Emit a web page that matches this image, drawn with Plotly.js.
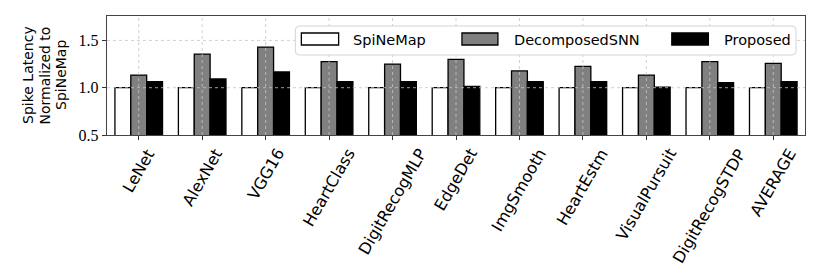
<!DOCTYPE html>
<html>
<head>
<meta charset="utf-8">
<script src="https://cdn.plot.ly/plotly-3.0.1.min.js"></script>
<style>html,body{margin:0;padding:0;background:#fff;}#chart{width:822px;height:274px;}</style>
</head>
<body>
<div id="chart"></div>
<script>
const categories = ["LeNet","AlexNet","VGG16","HeartClass","DigitRecogMLP","EdgeDet","ImgSmooth","HeartEstm","VisualPursuit","DigitRecogSTDP","AVERAGE"];
const seriesNames = ["SpiNeMap","DecomposedSNN","Proposed"];
const spinemap = [1,1,1,1,1,1,1,1,1,1,1];
const decomposedSNN = [1.134,1.356,1.43,1.275,1.25,1.30,1.177,1.226,1.134,1.275,1.258];
const proposed = [1.063,1.092,1.166,1.063,1.063,1.015,1.063,1.063,1.007,1.053,1.063];
const yTickVals = [0.5,1.0,1.5];
const yTickText = ['0.5','1.0','1.5'];
const yTitleLines = ['Spike Latency','Normalized to','SpiNeMap'];

const colors = ['#ffffff','#808080','#000000'];
const sans = "DejaVu Sans, sans-serif";
const serif = "Liberation Serif, serif";

const seriesVals = [spinemap, decomposedSNN, proposed];
const data = seriesNames.map((n,i)=>({
  type:'bar', name:n, x:categories, y:seriesVals[i], base:0,
  marker:{color:colors[i], line:{color:'#000', width:1.3}}
}));

// plot area in pixels (for converting legend geometry to paper units)
const W=822,H=274, L=106.5, R=17, T=16, B=139;
const pw=W-L-R, ph=H-T-B;
const px=v=>(v-L)/pw, py=v=>(H-B-v)/ph;

const shapes = [];
const gridLine = {color:'#c4c4c4', width:0.8, dash:'dot'};
categories.forEach(c=>shapes.push({type:'line', layer:'above', xref:'x', yref:'paper', x0:c, x1:c, y0:0, y1:1, line:gridLine}));
yTickVals.slice(1).forEach(v=>shapes.push({type:'line', layer:'above', xref:'paper', yref:'y', x0:0, x1:1, y0:v, y1:v, line:gridLine}));
// legend box (rounded)
(function(){
  const x0=px(295), x1=px(796), y0=py(55), y1=py(26);
  const rx=4/pw, ry=4/ph;
  const path = `M${x0+rx},${y1} L${x1-rx},${y1} Q${x1},${y1} ${x1},${y1-ry} L${x1},${y0+ry} Q${x1},${y0} ${x1-rx},${y0} L${x0+rx},${y0} Q${x0},${y0} ${x0},${y0+ry} L${x0},${y1-ry} Q${x0},${y1} ${x0+rx},${y1} Z`;
  shapes.push({type:'path', layer:'above', xref:'paper', yref:'paper', path:path,
    fillcolor:'rgba(255,255,255,0.92)', line:{color:'#d4d4d4', width:1}});
})();
const swatchX = [[301,338.3],[461.7,497.7],[671.7,708.3]];
const textX = [351.7,512.3,723.3];
const annotations = [];
seriesNames.forEach((n,i)=>{
  shapes.push({type:'rect', layer:'above', xref:'paper', yref:'paper',
    x0:px(swatchX[i][0]), x1:px(swatchX[i][1]), y0:py(45), y1:py(33),
    fillcolor:colors[i], line:{color:'#000', width:1.3}});
  annotations.push({xref:'paper', yref:'paper', x:px(textX[i]), y:py(39.5), xanchor:'left', yanchor:'middle',
    text:n, showarrow:false, font:{family:sans, size:14.5, color:'#000'}, borderpad:0});
});
// x tick labels centered under ticks (rotated)
categories.forEach(c=>annotations.push({xref:'x', yref:'paper', x:c, y:0, yshift:-9, xanchor:'center', yanchor:'top',
  text:c, textangle:-60, showarrow:false, borderpad:0, font:{family:sans, size:16, color:'#000'}}));
// y-axis title lines
const titleCenters = [27, 43.5, 60];
yTitleLines.forEach((t,i)=>annotations.push({xref:'paper', yref:'paper', x:0, xshift:titleCenters[i]-L, y:0.5,
  xanchor:'center', yanchor:'middle', text:t, textangle:-90, showarrow:false, borderpad:0,
  font:{family:sans, size:14, color:'#000'}}));

const layout = {
  width:W, height:H,
  margin:{l:L, r:R, t:T, b:B, pad:0},
  paper_bgcolor:'#fff', plot_bgcolor:'#fff',
  barmode:'group', bargap:0.25, bargroupgap:0,
  showlegend:false,
  shapes:shapes, annotations:annotations,
  xaxis:{type:'category', range:[-0.5,10.5], showticklabels:false,
    ticks:'outside', ticklen:4, tickcolor:'#333',
    showgrid:false, showline:true, linecolor:'#444', linewidth:1.2, mirror:true, zeroline:false},
  yaxis:{range:[0.5,1.758], tickvals:yTickVals, ticktext:yTickText,
    tickfont:{family:serif, size:16, color:'#000'},
    ticks:'outside', ticklen:4, tickcolor:'#333',
    showgrid:false, showline:true, linecolor:'#444', linewidth:1.2, mirror:true, zeroline:false}
};
Plotly.newPlot('chart', data, layout, {staticPlot:true, displayModeBar:false});
</script>
</body>
</html>
